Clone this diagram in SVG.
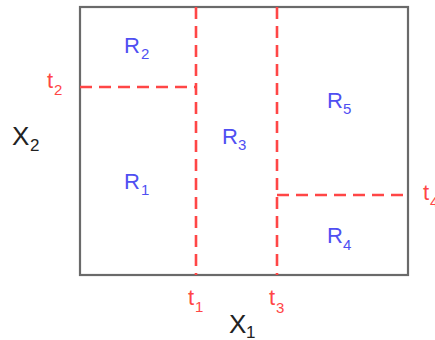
<svg xmlns="http://www.w3.org/2000/svg" width="435" height="340" viewBox="0 0 435 340">
  <style>
    .frame { fill: none; stroke: #6a6a6a; stroke-width: 2.2; }
    .split { fill: none; stroke: #ff4646; stroke-width: 2.6; stroke-dasharray: 12 7; }
    text { font-family: "Liberation Sans", Arial, sans-serif; }
    .reg { fill: #4f4ff2; font-size: 22px; }
    .thr { fill: #ff4646; font-size: 22px; }
    .axis { fill: #222222; font-size: 26px; }
    .sub { font-size: 15px; }
    .asub { font-size: 17px; }
  </style>
  <rect width="435" height="340" fill="#ffffff"/>
  <g id="frame">
    <rect class="frame" x="80" y="7" width="328" height="268"/>
  </g>
  <g id="splits">
    <line class="split" x1="196" y1="7" x2="196" y2="275"/>
    <line class="split" x1="277" y1="7" x2="277" y2="275"/>
    <line class="split" x1="80" y1="87" x2="196" y2="87"/>
    <line class="split" x1="277" y1="195" x2="408" y2="195"/>
  </g>
  <g id="regions">
    <g id="R1"><text class="reg" x="124" y="189">R<tspan class="sub" x="141" y="195">1</tspan></text></g>
    <g id="R2"><text class="reg" x="124" y="53">R<tspan class="sub" x="141" y="59">2</tspan></text></g>
    <g id="R3"><text class="reg" x="222" y="144">R<tspan class="sub" x="238" y="150">3</tspan></text></g>
    <g id="R4"><text class="reg" x="327" y="243">R<tspan class="sub" x="343" y="250">4</tspan></text></g>
    <g id="R5"><text class="reg" x="327" y="108">R<tspan class="sub" x="343" y="114">5</tspan></text></g>
  </g>
  <g id="thresholds">
    <g id="t1"><text class="thr" x="188" y="305">t<tspan class="sub" x="195" y="312">1</tspan></text></g>
    <g id="t2"><text class="thr" x="47" y="88">t<tspan class="sub" x="54" y="95">2</tspan></text></g>
    <g id="t3"><text class="thr" x="269" y="305">t<tspan class="sub" x="276" y="313">3</tspan></text></g>
    <g id="t4"><text class="thr" x="423" y="200">t<tspan class="sub" x="430" y="207">4</tspan></text></g>
  </g>
  <g id="axes">
    <g id="X1"><text class="axis" x="229" y="333">X<tspan class="asub" x="246" y="338">1</tspan></text></g>
    <g id="X2"><text class="axis" x="12" y="145">X<tspan class="asub" x="30" y="151">2</tspan></text></g>
  </g>
</svg>
